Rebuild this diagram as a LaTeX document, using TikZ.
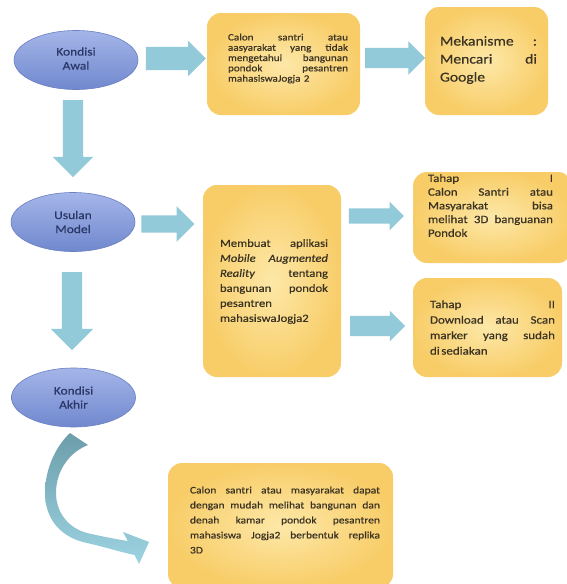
\documentclass[tikz,border=0pt]{standalone}
\usepackage{fontspec}
\setmainfont[FakeStretch=1.15, FakeBold=0.5]{Carlito}
\usetikzlibrary{shapes.geometric,shapes.arrows}
\setlength\parindent{0pt}
\definecolor{boxin}{HTML}{FDE8A8}
\definecolor{boxout}{HTML}{F8CD68}
\definecolor{elltop}{HTML}{A4B5E8}
\definecolor{ellbot}{HTML}{7088CE}
\definecolor{elldraw}{HTML}{6A7FC2}
\definecolor{elltext}{HTML}{2B3767}
\definecolor{arr}{HTML}{93CADA}
\definecolor{txt}{HTML}{3A3222}
\definecolor{carrtop}{HTML}{6C9DAA}
\definecolor{carrbot}{HTML}{9DD4E2}
\tikzset{
  ell/.style={ellipse, top color=elltop, bottom color=ellbot, draw=elldraw, line width=0.6pt,
    minimum width=124pt, minimum height=59pt, inner sep=0pt, text=elltext, align=center,
    font=\fontsize{11.7}{14}\selectfont},
  ybox/.style={rounded corners=14pt, shading=radial, inner color=boxin, outer color=boxout,
    inner sep=0pt, draw=none},
  btext/.style={text=txt, align=left, inner sep=0pt},
  barr/.style={single arrow, fill=arr, draw=none, inner xsep=0pt, minimum width=0pt,
    single arrow tip angle=90},
}
\begin{document}
\begin{tikzpicture}[x=1pt,y=-1pt]
\fill[white] (0,0) rectangle (567,584);
\useasboundingbox (0,0) rectangle (567,584);

% ellipses
\node[ell] (awal) at (76,60) {\raisebox{3pt}{Kondisi}\\\raisebox{3pt}{Awal}};
\node[ell] (usulan) at (73,222) {Usulan\\Model};
\node[ell] (akhir) at (73.5,397.5) {Kondisi\\Akhir};

% boxes
\node[ybox, minimum width=153pt, minimum height=102pt] (b1) at (283.5,64) {};
\node[ybox, minimum width=123pt, minimum height=108pt] (b2) at (486.5,61) {};
\node[ybox, minimum width=138pt, minimum height=192pt] (b3) at (272,281) {};
\node[ybox, minimum width=159pt, minimum height=91pt] (b4) at (492.5,217.5) {};
\node[ybox, minimum width=149pt, minimum height=99pt] (b5) at (487.5,327.5) {};
\node[ybox, minimum width=225pt, minimum height=125pt] (b6) at (280.5,525.5) {};

% texts
\node[btext, text width=120pt, font=\fontsize{9.7}{10.3}\selectfont] (t1) at (288,58.5)
  {Calon\hfill santri\hfill atau\\ aasyarakat\hfill yang\hfill tidak\\ mengetahui\hfill bangunan\\ pondok\hfill pesantren\\ mahasiswaJogja 2};
\node[btext, text width=97pt, font=\fontsize{13.6}{18}\selectfont] (t2) at (488.5,60)
  {Mekanisme\hfill :\\ Mencari\hfill di\\ Google};
\node[btext, text width=108pt, font=\fontsize{11}{15}\selectfont] (t3) at (274,281.5)
  {Membuat\hfill aplikasi\\ \textit{Mobile}\hfill\textit{Augmented}\\ \textit{Reality}\hfill tentang\\ bangunan\hfill pondok\\ pesantren\\ mahasiswaJogja2};
\node[btext, text width=125pt, font=\fontsize{11.2}{13.7}\selectfont] (t4) at (490.5,205.5)
  {Tahap\hfill I\\ Calon\hfill Santri\hfill atau\\ Masyarakat\hfill bisa\\ melihat\hfill 3D\hfill banguanan\\ Pondok};
\node[btext, text width=125pt, font=\fontsize{11.3}{15.5}\selectfont] (t5) at (492.5,327.5)
  {Tahap\hfill II\\ Download\hfill atau\hfill Scan\\ marker\hfill yang\hfill sudah\\ di\hspace{1.5pt}sediakan};
\node[btext, text width=190pt, font=\fontsize{10}{15}\selectfont] (t6) at (285,520)
  {Calon\hfill santri\hfill atau\hfill masyarakat\hfill dapat\\ dengan\hfill mudah\hfill melihat\hfill bangunan\hfill dan\\ denah\hfill kamar\hfill pondok\hfill pesantren\\ mahasiswa\hfill Jogja2\hfill berbentuk\hfill replika\\ 3D};

% block arrows
\node[barr, minimum height=60pt, inner ysep=11.5pt, single arrow head extend=6pt] (a1) at (170,58.5) {};
\node[barr, minimum height=60pt, inner ysep=10pt, single arrow head extend=6.5pt] (a2) at (390,58) {};
\node[barr, minimum height=53pt, inner ysep=8.5pt, single arrow head extend=9pt] (a3) at (163.5,224) {};
\node[barr, minimum height=55pt, inner ysep=7.5pt, single arrow head extend=6.5pt] (a4) at (372.5,216) {};
\node[barr, minimum height=55pt, inner ysep=10pt, single arrow head extend=5pt] (a5) at (372.5,326) {};
\node[barr, rotate=-90, minimum height=77pt, inner ysep=10pt, single arrow head extend=10pt] (d1) at (73,133.5) {};
\node[barr, rotate=-90, minimum height=78pt, inner ysep=10pt, single arrow head extend=11pt] (d2) at (72,306) {};

% curved arrow
\shade[top color=carrtop, bottom color=carrbot]
  (70,433) .. controls (55,447) and (45,470) .. (45,493)
  .. controls (45,520) and (62,538) .. (87,543)
  .. controls (105,547) and (120,552) .. (134.6,555)
  -- (139,564) -- (149,542) -- (123,532) -- (127.9,541)
  .. controls (115,539) and (100,536) .. (87,533)
  .. controls (68,528) and (56,512) .. (56,493)
  .. controls (56,470) and (70,452) .. (88,445) -- cycle;
\end{tikzpicture}
\end{document}
